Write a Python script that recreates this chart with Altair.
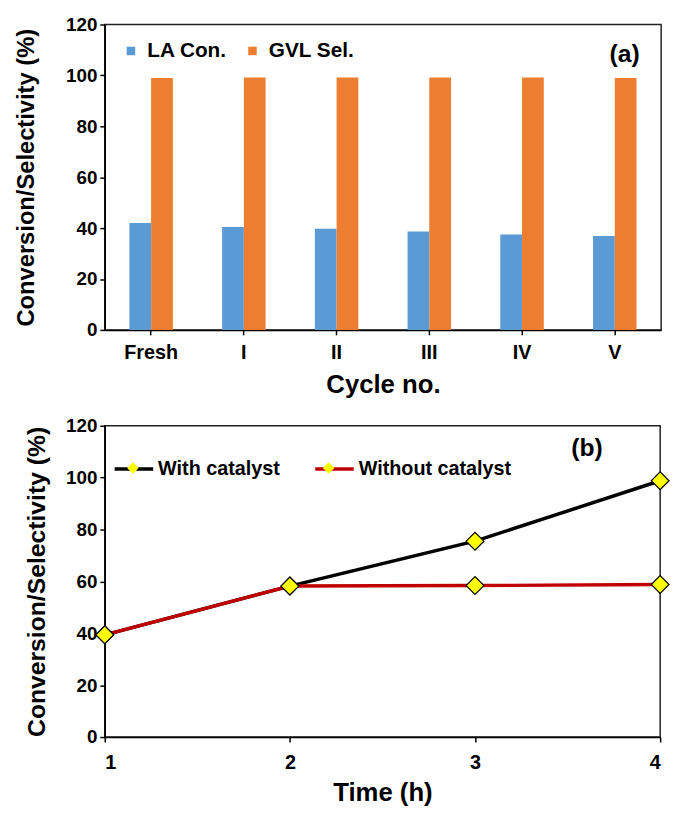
import altair as alt
import pandas as pd

# ---------------- data ----------------
cycles = ["Fresh", "I", "II", "III", "IV", "V"]
bar_series = ["LA Con.", "GVL Sel."]
la_con = [42.0, 40.4, 39.7, 38.7, 37.5, 36.9]
gvl_sel = [99.0, 99.2, 99.2, 99.2, 99.2, 99.0]

times = [1, 2, 3, 4]
line_series = ["With catalyst", "Without catalyst"]
with_cat = [39.4, 58.2, 75.5, 98.8]
without_cat = [39.4, 58.2, 58.4, 58.8]

y_ticks = [0, 20, 40, 60, 80, 100, 120]

FONT = "Liberation Sans"
BLUE, ORANGE = "#5B9BD5", "#ED7D31"
DIAMOND = "M-0.3,0L0,-0.3L0.3,0L0,0.3Z"

bar_df = pd.DataFrame({
    "cycle": cycles * 2,
    "series": [bar_series[0]] * len(cycles) + [bar_series[1]] * len(cycles),
    "value": la_con + gvl_sel,
})
line_df = pd.DataFrame({
    "time": times * 2,
    "series": [line_series[0]] * len(times) + [line_series[1]] * len(times),
    "value": with_cat + without_cat,
})

axis_common = dict(
    labelFont=FONT, labelFontWeight="bold", labelColor="black",
    titleFont=FONT, titleFontWeight="bold", titleColor="black",
    domainColor="black", domainWidth=1.5, tickColor="black", tickWidth=1.5,
    tickSize=5, grid=False,
)

# ---------------- panel (a) ----------------
bars = alt.Chart(bar_df).mark_bar().encode(
    x=alt.X("cycle:N", sort=cycles,
            scale=alt.Scale(paddingInner=0.531, paddingOuter=0.2655),
            axis=alt.Axis(title="Cycle no.", labelAngle=0, labelFontSize=20,
                          labelPadding=8, titleFontSize=26, titlePadding=9,
                          **axis_common)),
    xOffset=alt.XOffset("series:N", sort=bar_series,
                        scale=alt.Scale(paddingInner=0, paddingOuter=0)),
    y=alt.Y("value:Q", scale=alt.Scale(domain=[0, 120], nice=False),
            axis=alt.Axis(title="Conversion/Selectivity (%)", values=y_ticks,
                          labelFontSize=19, labelPadding=3, titleFontSize=24,
                          titlePadding=27, **axis_common)),
    color=alt.Color("series:N", sort=bar_series,
                    scale=alt.Scale(domain=bar_series, range=[BLUE, ORANGE]),
                    legend=alt.Legend(title=None, orient="none", direction="horizontal",
                                      legendX=16, legendY=16, padding=0,
                                      symbolType="square", symbolSize=74,
                                      symbolStrokeWidth=0,
                                      labelFont=FONT, labelFontWeight="bold",
                                      labelFontSize=21, labelColor="black",
                                      labelOffset=6, columnPadding=15)),
)
label_a = alt.Chart(pd.DataFrame({"t": ["(a)"]})).mark_text(
    font=FONT, fontWeight="bold", fontSize=25, color="black"
).encode(text="t:N", x=alt.value(526), y=alt.value(30))

top = alt.layer(bars, label_a).properties(
    width=563, height=309,
    view=alt.ViewBackground(stroke="#222222", strokeWidth=1.5),
)

# ---------------- panel (b) ----------------
x_b = alt.X("time:Q", scale=alt.Scale(domain=[1, 4], nice=False),
            axis=alt.Axis(title="Time (h)", values=times, format="d",
                          labelFontSize=20, labelPadding=11, titleFontSize=26,
                          titlePadding=7, **axis_common))
y_b = alt.Y("value:Q", scale=alt.Scale(domain=[0, 120], nice=False),
            axis=alt.Axis(title="Conversion/Selectivity (%)", values=y_ticks,
                          labelFontSize=19, labelPadding=3, titleFontSize=25,
                          titlePadding=16, **axis_common))

legend_common = dict(title=None, orient="none", direction="horizontal",
                     legendX=8, legendY=22, padding=0, symbolSize=1521,
                     labelFont=FONT, labelFontWeight="bold", labelFontSize=20,
                     labelColor="black", labelOffset=3)

lines = alt.Chart(line_df).mark_line(strokeWidth=3.5).encode(
    x=x_b, y=y_b,
    color=alt.Color("series:N", sort=line_series,
                    scale=alt.Scale(domain=line_series, range=["#000000", "#C00000"]),
                    legend=alt.Legend(symbolType="stroke", symbolStrokeWidth=3.5,
                                      columnPadding=28, **legend_common)),
)
points = alt.Chart(line_df).mark_point(
    filled=True, fill="#FFFF00", stroke="#000000", strokeWidth=1.2,
    size=3600, opacity=1
).encode(
    x=x_b, y=y_b,
    shape=alt.Shape("series:N",
                    scale=alt.Scale(range=[DIAMOND, DIAMOND]),
                    legend=alt.Legend(symbolFillColor="#FFFF00",
                                      symbolStrokeColor="#000000",
                                      symbolStrokeWidth=1.2, labelExpr="''",
                                      columnPadding=154, **legend_common)),
)
label_b = alt.Chart(pd.DataFrame({"t": ["(b)"]})).mark_text(
    font=FONT, fontWeight="bold", fontSize=25, color="black"
).encode(text="t:N", x=alt.value(488), y=alt.value(23))

bottom = alt.layer(lines, points, label_b).properties(
    width=562, height=315,
    view=alt.ViewBackground(stroke="#222222", strokeWidth=1.5),
).resolve_legend(color="independent", shape="independent")

chart = alt.vconcat(top, bottom, spacing=18).resolve_scale(
    color="independent", shape="independent"
).resolve_legend(color="independent", shape="independent").properties(
    padding={"left": 14, "top": 10, "right": 0, "bottom": 0},
    background="white",
)

chart.save("out.html", embed_options={"renderer": "svg", "actions": False})
